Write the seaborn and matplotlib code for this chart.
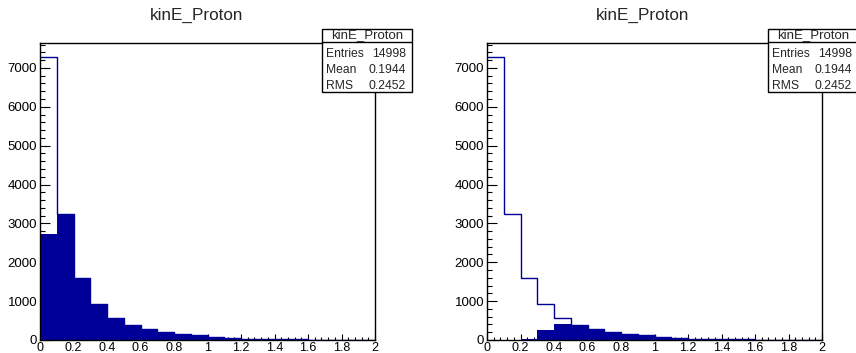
import pandas as pd
import matplotlib
matplotlib.use("Agg")
import matplotlib.pyplot as plt
import seaborn as sns
from matplotlib.ticker import MultipleLocator, FuncFormatter
from matplotlib.patches import Rectangle

# histogram bins: 20 bins of 0.1 GeV from 0 to 2
bin_centers = [0.05, 0.15, 0.25, 0.35, 0.45, 0.55, 0.65, 0.75, 0.85, 0.95,
               1.05, 1.15, 1.25, 1.35, 1.45, 1.55, 1.65, 1.75, 1.85, 1.95]

# all protons (outline)
all_counts = [7270, 3240, 1585, 930, 557, 390, 285, 200, 165, 125,
              70, 50, 35, 25, 20, 15, 12, 10, 8, 6]
# filled histogram, left pad
left_fill = [2716, 3240, 1585, 930, 557, 390, 285, 200, 165, 125,
             70, 50, 35, 25, 20, 15, 12, 10, 8, 6]
# filled histogram, right pad
right_fill = [0, 0, 20, 245, 400, 360, 275, 195, 160, 122,
              68, 49, 34, 24, 19, 14, 11, 9, 7, 5]

title = "kinE_Proton"
stats_names = ["Entries", "Mean", "RMS"]
stats_values = ["14998", "0.1944", "0.2452"]

sns.set_style("white")
plt.rcParams["font.family"] = ["Liberation Sans", "DejaVu Sans"]

W, H = 856, 353
fig = plt.figure(figsize=(W / 100, H / 100), dpi=100)

navy = "#000099"


def px_axes(x0, y0, x1, y1):
    return fig.add_axes([x0 / W, 1 - y1 / H, (x1 - x0) / W, (y1 - y0) / H])


def draw_pad(ax, fill_counts, title_x, box_x0):
    df = pd.DataFrame({"e": bin_centers, "fill": fill_counts,
                       "all": all_counts})
    sns.histplot(data=df, x="e", weights="fill", binwidth=0.1,
                 binrange=(0, 2), element="step", fill=True, color=navy,
                 alpha=1, linewidth=0, ax=ax)
    sns.histplot(data=df, x="e", weights="all", binwidth=0.1,
                 binrange=(0, 2), element="step", fill=False, color=navy,
                 linewidth=1.0, ax=ax)
    ax.set_xlim(0, 2)
    ax.set_ylim(0, 7640)
    ax.set_xlabel("")
    ax.set_ylabel("")
    for s in ax.spines.values():
        s.set_color("black")
        s.set_linewidth(1.0)
        s.set_zorder(4)
    ax.xaxis.set_major_locator(MultipleLocator(0.2))
    ax.xaxis.set_minor_locator(MultipleLocator(0.04))
    ax.yaxis.set_major_locator(MultipleLocator(1000))
    ax.yaxis.set_minor_locator(MultipleLocator(200))
    ax.xaxis.set_major_formatter(FuncFormatter(lambda v, p: "%g" % round(v, 2)))
    ax.tick_params(axis="both", which="both", direction="in", colors="black",
                   width=0.8, bottom=True, left=True, top=False, right=False)
    ax.tick_params(axis="x", which="major", length=4, pad=1.5, labelsize=9)
    ax.tick_params(axis="x", which="minor", length=2)
    ax.tick_params(axis="y", which="major", length=7, pad=2, labelsize=9.5)
    ax.tick_params(axis="y", which="minor", length=3.5)

    fig.text(title_x / W, 1 - 15 / H, title, ha="center", va="center",
             fontsize=12.3)

    # stats box
    bx0, bx1, by0, by1, hy = box_x0, box_x0 + 90, 29, 92, 42
    fig.patches.append(Rectangle((bx0 / W, 1 - by1 / H), (bx1 - bx0) / W,
                                 (by1 - by0) / H, transform=fig.transFigure,
                                 facecolor="white", edgecolor="black",
                                 linewidth=1.0, zorder=5))
    fig.lines.append(plt.Line2D([bx0 / W, bx1 / W], [1 - hy / H, 1 - hy / H],
                                transform=fig.transFigure, color="black",
                                linewidth=1.0, zorder=6))
    fig.text((bx0 + bx1) / 2 / W, 1 - 35.5 / H, title, ha="center",
             va="center", fontsize=9.5, zorder=7)
    for i, (name, val) in enumerate(zip(stats_names, stats_values)):
        y = 54 + i * 16
        fig.text((bx0 + 4) / W, 1 - y / H, name, ha="left", va="center",
                 fontsize=8.7, zorder=7)
        fig.text((bx1 - 6) / W, 1 - y / H, val, ha="right", va="center",
                 fontsize=8.7, zorder=7)


ax1 = px_axes(40, 43, 375, 340)
draw_pad(ax1, left_fill, 197, 322)
ax2 = px_axes(487, 43, 822, 340)
draw_pad(ax2, right_fill, 643, 768)

fig.savefig("out.png", dpi=100)
